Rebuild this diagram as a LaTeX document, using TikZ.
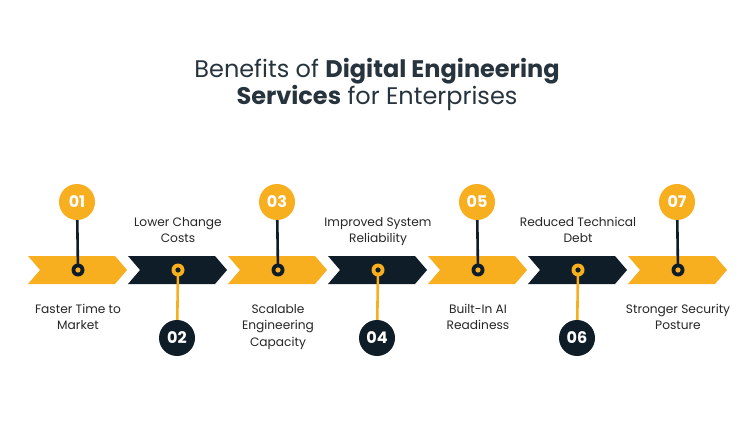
\documentclass[tikz,border=0pt]{standalone}
\usepackage{fontspec}
\setmainfont{Poppins}
\usetikzlibrary{positioning}
\definecolor{gold}{HTML}{F7AE1F}
\definecolor{navy}{HTML}{0F1D28}

\begin{document}
\begin{tikzpicture}[x=1pt, y=-1pt,
    label text/.style={align=center, font=\fontsize{12.2}{16.5}\selectfont, text=black!85, anchor=north},
    badge/.style={circle, minimum size=36pt, inner sep=0pt, font=\fontsize{16}{16}\selectfont\bfseries, text=white},
    stem/.style={line width=2.6pt}]
    \useasboundingbox[fill=white] (0, 0) rectangle (754, 446);

    \node[font=\fontsize{24}{27}\selectfont, align=center, text=navy!90] (title) at (377, 85)
        {Benefits of \textbf{Digital Engineering}\\\textbf{Services} for Enterprises};

    % chevrons
    \foreach \i/\fc/\dc/\num/\txt in {
        1/gold/navy/01/{Faster Time to\\Market},
        2/navy/gold/02/{Lower Change\\Costs},
        3/gold/navy/03/{Scalable\\Engineering\\Capacity},
        4/navy/gold/04/{Improved System\\Reliability},
        5/gold/navy/05/{Built-In AI\\Readiness},
        6/navy/gold/06/{Reduced Technical\\Debt},
        7/gold/navy/07/{Stronger Security\\Posture}} {
        \pgfmathsetmacro{\xl}{28 + 100*(\i-1)}
        \fill[\fc] (\xl, 256) -- ++(87, 0) -- ++(12, 14) -- ++(-12, 14) -- ++(-87, 0) -- ++(12, -14) -- cycle;
        \coordinate (dot\i) at (\xl+50, 270);
        \ifodd\i
            \node[badge, fill=\fc] (num\i) at (\xl+49, 202) {\num};
            \node[label text] (lab\i) at (\xl+50, 300.5) {\txt};
        \else
            \node[badge, fill=\fc] (num\i) at (\xl+49, 338) {\num};
            \node[label text] (lab\i) at (\xl+50, 213.5) {\txt};
        \fi
        \draw[stem, \dc] (num\i) -- (dot\i);
        \fill[\dc] (dot\i) circle (6.5);
        \fill[\fc] (dot\i) circle (2.6);
    }
\end{tikzpicture}
\end{document}
